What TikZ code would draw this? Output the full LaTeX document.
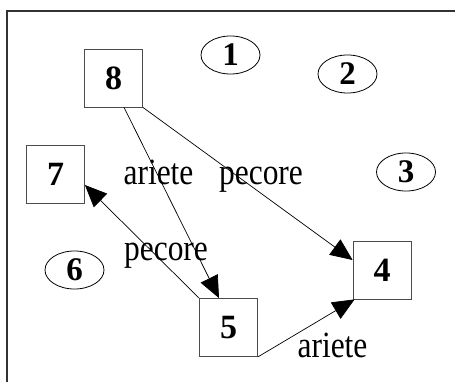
\documentclass[tikz,border=0pt]{standalone}
\usepackage{fontspec}
\setmainfont{Liberation Serif}
\newfontfamily\edgelabelfont[FakeStretch=0.85]{Liberation Serif}
\usetikzlibrary{arrows.meta,shapes.geometric}
\begin{document}
\begin{tikzpicture}[x=1pt,y=-1pt,
  box/.style={draw=black!70,line width=0.8pt,minimum width=58pt,minimum height=58pt,inner sep=0pt,
    font=\fontsize{34}{34}\selectfont\bfseries},
  oval/.style={draw=black,line width=0.8pt,ellipse,minimum width=59pt,minimum height=38pt,inner sep=0pt,
    font=\fontsize{33}{33}\selectfont\bfseries},
  lbl/.style={font=\edgelabelfont\fontsize{37}{37}\selectfont,inner sep=0pt,anchor=base},
  edge/.style={draw=black,line width=0.7pt,-{Triangle[length=22pt,width=19pt]}}]
\useasboundingbox (0,0) rectangle (455,382);
\fill[white] (0,0) rectangle (455,382);
% outer frame
\draw[black!80,line width=1.4pt] (7,11) rectangle (470,400);
% squares
\node[box] (n8) at (113.5,78) {8};
\node[box] (n7) at (55.5,174) {7};
\node[box] (n4) at (382,270) {4};
\node[box] (n5) at (228.5,327.5) {5};
% ovals
\node[oval] (e1) at (230.5,55) {1};
\node[oval] (e2) at (347.5,74) {2};
\node[oval] (e3) at (406,172) {3};
\node[oval] (e6) at (74.5,270) {6};
% labels
\node[lbl] (l1) at (158.5,185) {ariete};
\node[lbl] (l2) at (261,185) {pecore};
\node[lbl] (l3) at (166,260) {pecore};
\node[lbl] (l4) at (332.5,357) {ariete};
% connectors
\draw[edge] ([xshift=10.5pt]n8.south) -- ([xshift=-9.5pt]n5.north);
\draw[edge] (n8.south east) -- ([yshift=10pt]n4.west);
\draw[edge] (n5.north west) -- ([yshift=-11pt]n7.east);
\draw[edge] (n5.south east) -- ([xshift=2pt]n4.south west);
\end{tikzpicture}
\end{document}
